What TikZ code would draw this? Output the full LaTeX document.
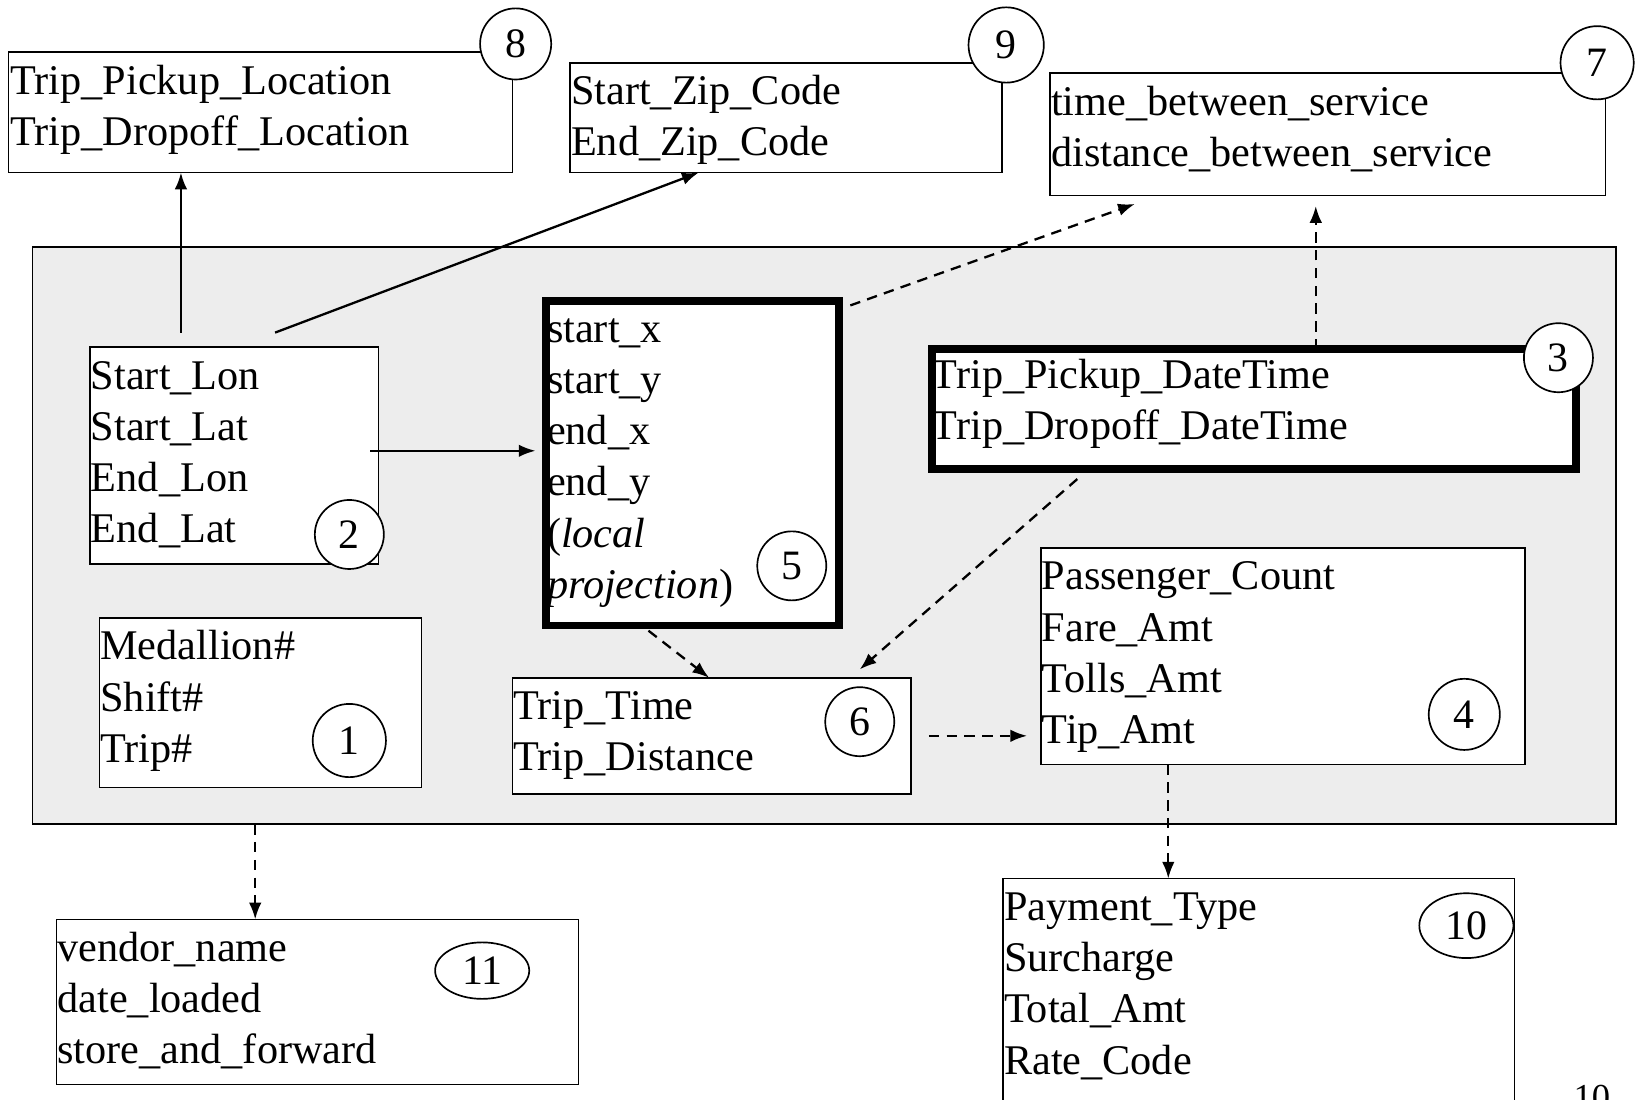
\documentclass[tikz,border=0pt]{standalone}
\usepackage{fontspec}
\setmainfont{Liberation Serif}
\usetikzlibrary{arrows.meta,fit,shapes.geometric}
\begin{document}
\begin{tikzpicture}[x=0.5pt,y=-0.5pt,
  box/.style={draw, line width=0.8pt, fill=white, inner sep=0pt, outer sep=0pt},
  thickbox/.style={box, line width=3.75pt},
  txt/.style={anchor=north west, inner sep=0pt, outer sep=0pt, align=left, font=\fontsize{20.2pt}{24.5pt}\selectfont},
  num/.style={draw, circle, line width=0.8pt, fill=white, inner sep=0pt, minimum size=33pt, font=\fontsize{20pt}{24pt}\selectfont},
  oval/.style={draw, ellipse, line width=0.8pt, fill=white, inner sep=0pt, font=\fontsize{20pt}{24pt}\selectfont},
  arr/.style={-{Latex[length=8pt,width=6pt]}, line width=1.1pt},
  darr/.style={arr, dash pattern=on 5pt off 3.5pt},
]
\clip (0,0) rectangle (1568,1051);
\useasboundingbox (0,0) rectangle (1568,1051);
\fill[white] (0,0) rectangle (1568,1051);

% big gray area
\node[box, fill=black!7, fit={(31,236) (1545,788)}] (gray) {};

% boxes
\node[box, fit={(8,50) (490,165)}] (b8) {};
\node[box, fit={(545,60) (958,165)}] (b9) {};
\node[box, fit={(1004,70) (1535,187)}] (b7) {};
\node[box, fit={(86,332) (362,539)}] (b2) {};
\node[thickbox, fit={(522,288) (802,598)}] (b5) {};
\node[thickbox, fit={(891,334) (1507,448)}] (b3) {};
\node[box, fit={(995,524) (1458,731)}] (b4) {};
\node[box, fit={(95,591) (403,753)}] (b1) {};
\node[box, fit={(490,648) (871,759)}] (b6) {};
\node[box, fit={(54,879) (553,1037)}] (b11) {};
\node[box, fit={(959,840) (1448,1080)}] (b10) {};

% texts
\node[txt] (t8) at ([xshift=1pt]b8.north west) {\rule{0pt}{20pt}Trip\_Pickup\_Location\\Trip\_Dropoff\_Location};
\node[txt] (t9) at ([xshift=0.5pt]b9.north west) {\rule{0pt}{20pt}Start\_Zip\_Code\\End\_Zip\_Code};
\node[txt] (t7) at ([xshift=0.5pt]b7.north west) {\rule{0pt}{20pt}time\_between\_service\\distance\_between\_service};
\node[txt] (t2) at ([xshift=0.5pt]b2.north west) {\rule{0pt}{20pt}Start\_Lon\\Start\_Lat\\End\_Lon\\End\_Lat};
\node[txt] (t5) at ([shift={(1,-1)}]b5.north west) {\rule{0pt}{20pt}start\_x\\start\_y\\end\_x\\end\_y\\(\textit{local}\\\textit{projection})};
\node[txt] (t3) at ([shift={(0,-3)}]b3.north west) {\rule{0pt}{20pt}Trip\_Pickup\_DateTime\\Trip\_Dropoff\_DateTime};
\node[txt] (t4) at ([xshift=0.5pt]b4.north west) {\rule{0pt}{20pt}Passenger\_Count\\Fare\_Amt\\Tolls\_Amt\\Tip\_Amt};
\node[txt] (t1) at ([xshift=0.5pt]b1.north west) {\rule{0pt}{20pt}Medallion\#\\Shift\#\\Trip\#};
\node[txt] (t6) at ([xshift=0.5pt]b6.north west) {\rule{0pt}{20pt}Trip\_Time\\Trip\_Distance};
\node[txt] (t11) at ([xshift=0.5pt]b11.north west) {\rule{0pt}{20pt}vendor\_name\\date\_loaded\\store\_and\_forward};
\node[txt] (t10) at ([xshift=0.5pt]b10.north west) {\rule{0pt}{20pt}Payment\_Type\\Surcharge\\Total\_Amt\\Rate\_Code};

% connectors
\draw[arr] ([shift={(87,-14)}]b2.north west) -- ([xshift=82.5pt]b8.south west);
\draw[arr] ([shift={(177,-14)}]b2.north west) -- ([xshift=61.5pt]b9.south west);
\draw[arr, shorten >=5pt] ([shift={(268,99)}]b2.north west) -- ([shift={(0,143)}]b5.north west);
\draw[darr] ([shift={(11,4)}]b5.north east) -- ([shift={(81,8)}]b7.south west);
\draw[darr] ([xshift=183.5pt]b3.north west) -- ([shift={(254,10)}]b7.south west);
\draw[darr] ([shift={(139,10)}]b3.south west) -- ([shift={(332,-8)}]b6.north west);
\draw[darr] ([shift={(98,5)}]b5.south west) -- ([xshift=94pt]b6.north west);
\draw[darr] ([xshift=8.5pt]b6.east) -- ([xshift=-6.5pt]b6.east -| b4.west);
\draw[darr] ([xshift=61pt]b4.south west) -- ([xshift=79pt]b10.north west);
\draw[darr] ([xshift=106.5pt]gray.south west) -- ([xshift=95pt]b11.north west);

% numbers
\node[num, minimum size=34pt] (c8) at (493,42) {8};
\node[num, minimum size=36pt] (c9) at (962,43) {9};
\node[num, minimum size=35pt] (c7) at (1527,60) {7};
\node[num] (c3) at (1490,342) {3};
\node[num] (c2) at (334,511) {\raisebox{-2pt}{2}};
\node[num] (c5) at (757,541) {5};
\node[num] (c6) at (822,690) {6};
\node[num, minimum size=34pt] (c4) at (1400,683) {4};
\node[num, minimum size=35pt] (c1) at (334,708) {1};
\node[oval, minimum width=45pt, minimum height=27pt] (c11) at (461,928) {\raisebox{-2pt}{11}};
\node[oval, minimum width=45pt, minimum height=31pt] (c10) at (1402,885) {10};

% page number
\node[anchor=base, inner sep=0pt, font=\fontsize{17.5pt}{20pt}\selectfont] (pg) at (1522,1061) {10};
\end{tikzpicture}
\end{document}
